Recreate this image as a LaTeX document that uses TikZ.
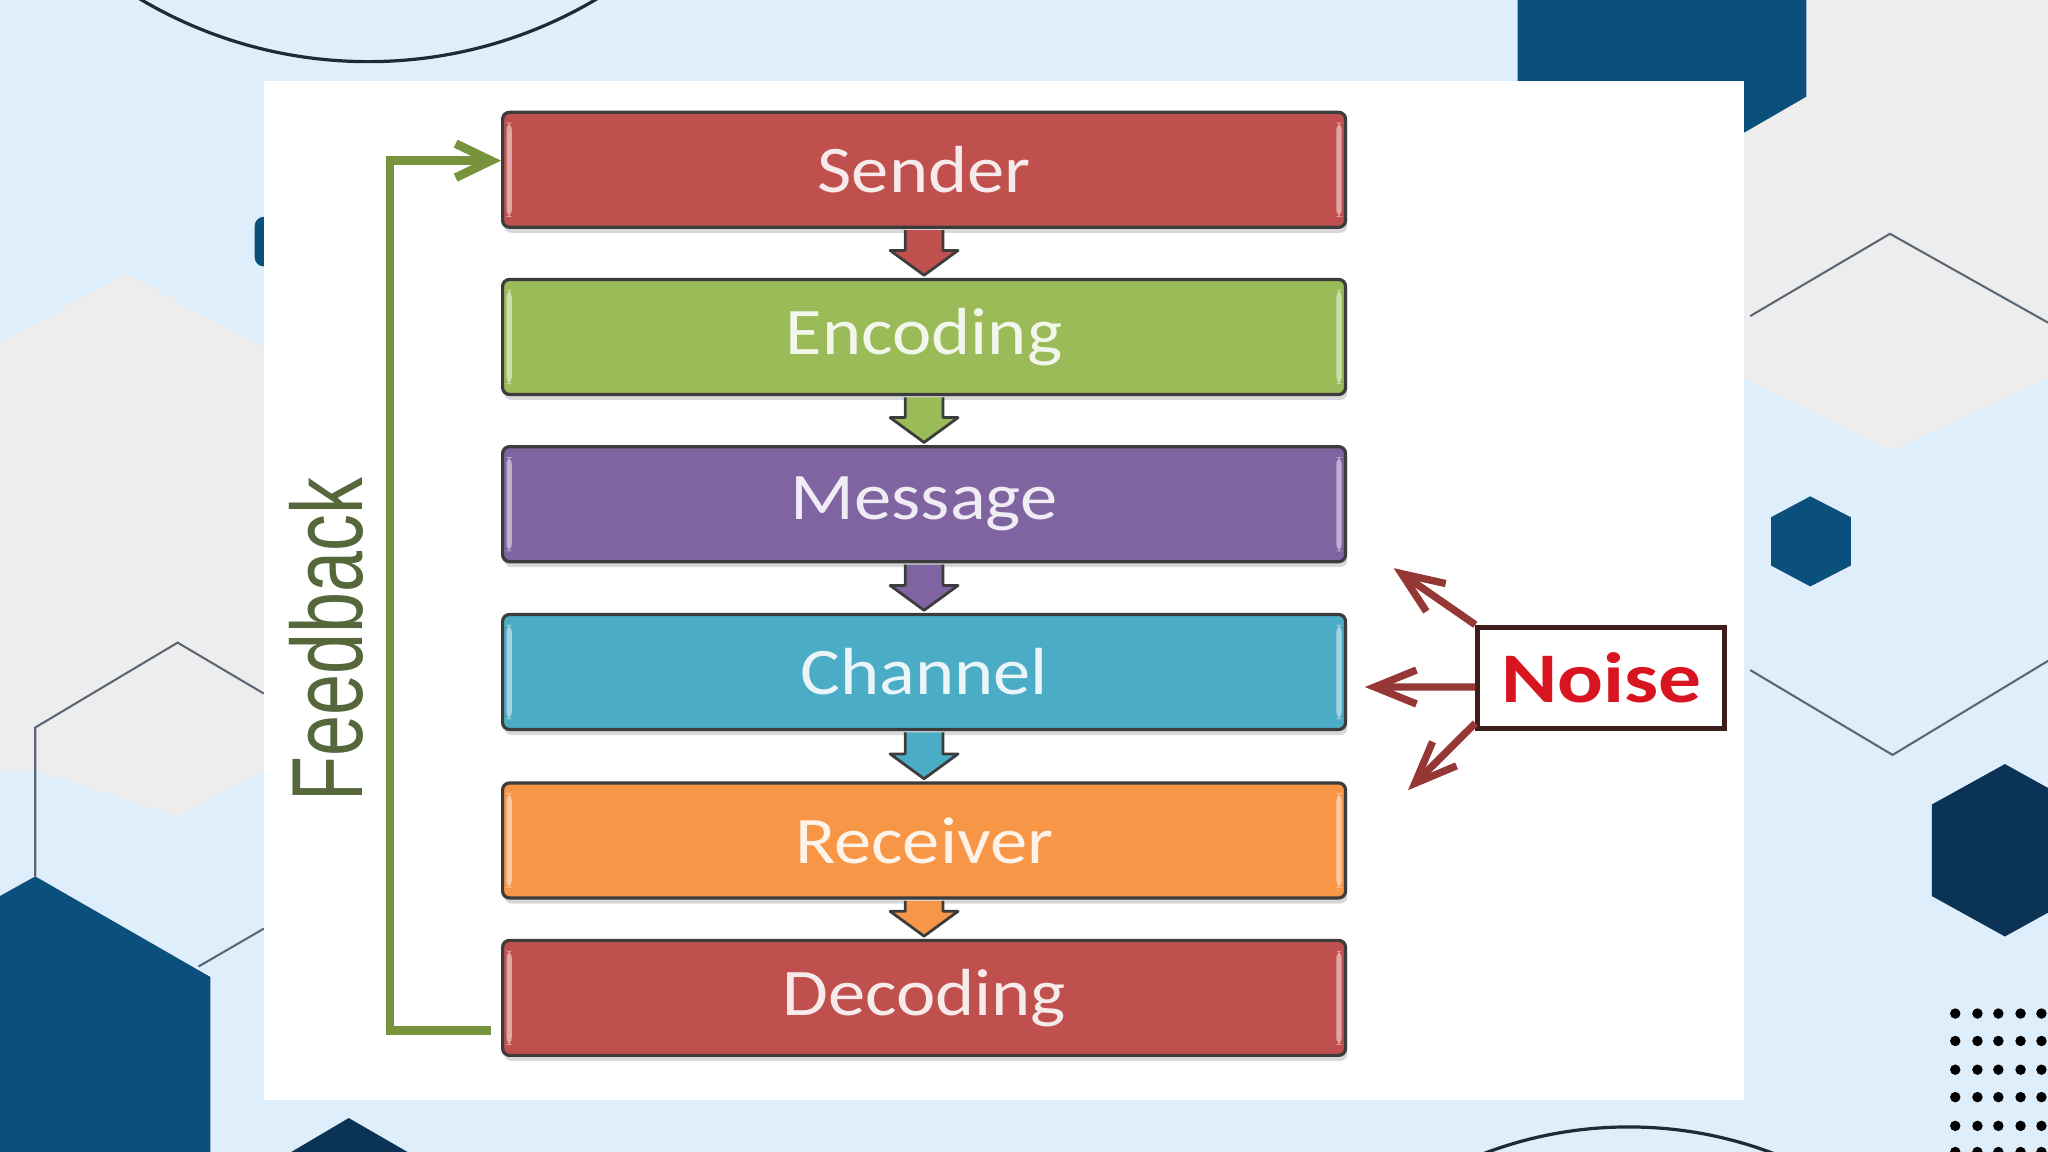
\documentclass[tikz,border=0pt]{standalone}
\usepackage{fontspec}
\setmainfont{Carlito}
\newfontfamily\stagefont[FakeStretch=1.12]{Carlito}
\newfontfamily\noisefont[FakeStretch=1.2]{Carlito}
\newfontfamily\fbfont[FakeStretch=0.73]{Liberation Sans}
\usetikzlibrary{arrows.meta,shadows}

\definecolor{bgblue}{HTML}{DEEEFB}
\definecolor{bggray}{HTML}{EDEDED}
\definecolor{navy}{HTML}{0B4F7D}
\definecolor{deepnavy}{HTML}{0A3356}
\definecolor{hexline}{HTML}{5B6675}
\definecolor{arcline}{HTML}{1E2A38}
\definecolor{sred}{HTML}{C0504D}
\definecolor{sgreen}{HTML}{9BBB59}
\definecolor{spurple}{HTML}{8064A2}
\definecolor{sblue}{HTML}{4BACC6}
\definecolor{sorange}{HTML}{F79646}
\definecolor{boxline}{HTML}{3C3C3C}
\definecolor{fbgreen}{HTML}{77933C}
\definecolor{fbtextc}{HTML}{56673B}
\definecolor{noisered}{HTML}{D81420}
\definecolor{noiseline}{HTML}{3E1C1C}
\definecolor{noisearr}{HTML}{953735}

\tikzset{
  stage/.style={draw=boxline, line width=0.7pt, rounded corners=1.5pt, fill=#1,
    minimum width=6.45cm, minimum height=0.88cm, inner sep=0pt,
    text=white!88!#1, font=\stagefont\fontsize{14.5}{17}\selectfont,
    drop shadow={shadow xshift=0.4pt, shadow yshift=-1.2pt, opacity=0.3},
    path picture={
      \fill[white!50!#1] ([shift={(0.03cm,0.08cm)}]path picture bounding box.south west)
        rectangle ([shift={(0.07cm,-0.08cm)}]path picture bounding box.north west);
      \fill[white!50!#1] ([shift={(-0.07cm,0.08cm)}]path picture bounding box.south east)
        rectangle ([shift={(-0.03cm,-0.08cm)}]path picture bounding box.north east);
    }},
  noisebox/.style={draw=noiseline, line width=1.1pt, fill=white,
    minimum width=1.89cm, minimum height=0.775cm, inner sep=0pt,
    text=noisered, font=\noisefont\bfseries\fontsize{15.5}{18}\selectfont},
  fbline/.style={draw=fbgreen, line width=1.9pt, -{Straight Barb[length=2.7mm,width=2.6mm]}},
  fbtext/.style={text=fbtextc, font=\fbfont\fontsize{22}{26}\selectfont},
  noisearrow/.style={draw=noisearr, line width=1.6pt, -{Straight Barb[length=3.2mm,width=2.6mm]}},
  hexedge/.style={draw=hexline, line width=0.45pt},
  ringline/.style={draw=arcline, line width=0.7pt}
}

% block arrow from the bottom of #1 to the top of #2, filled with #3
\newcommand{\flowdown}[3]{%
  \fill[#3] ([xshift=-0.145cm,yshift=-0.01cm]#1.south) -- ([xshift=-0.145cm,yshift=0.21cm]#2.north)
    -- ([xshift=-0.26cm,yshift=0.21cm]#2.north) -- ([yshift=0.02cm]#2.north)
    -- ([xshift=0.26cm,yshift=0.21cm]#2.north) -- ([xshift=0.145cm,yshift=0.21cm]#2.north)
    -- ([xshift=0.145cm,yshift=-0.01cm]#1.south) -- cycle;
  \draw[boxline, line width=0.6pt, line join=round]
    ([xshift=-0.145cm,yshift=-0.01cm]#1.south) -- ([xshift=-0.145cm,yshift=0.21cm]#2.north)
    -- ([xshift=-0.26cm,yshift=0.21cm]#2.north) -- ([yshift=0.02cm]#2.north)
    -- ([xshift=0.26cm,yshift=0.21cm]#2.north) -- ([xshift=0.145cm,yshift=0.21cm]#2.north)
    -- ([xshift=0.145cm,yshift=-0.01cm]#1.south);
}

\begin{document}
\begin{tikzpicture}[x=0.01cm, y=-0.01cm]
  \useasboundingbox (0,0) rectangle (1568,882);
  \clip (0,0) rectangle (1568,882);

  % Background with hexagons
  \fill[bgblue] (0,0) rectangle (1568,882);
  \fill[bggray] (0,262) -- (97,210) -- (202,266) -- (202,590) -- (136,625) -- (27,590) -- (0,590) -- cycle;
  \fill[bggray] (1335,0) -- (1568,0) -- (1568,290) -- (1447,345) -- (1335,290) -- cycle;
  \fill[navy] (1162,0) -- (1383,0) -- (1383,74) -- (1300,122) -- (1162,122) -- cycle;
  \fill[navy, rounded corners=2] (195,166) rectangle (215,204);
  \fill[navy] (0,686) -- (27,671) -- (161,748) -- (161,882) -- (0,882) -- cycle;
  \fill[deepnavy] (223,882) -- (267,856) -- (312,882) -- cycle;
  \fill[navy] (1386,380) -- (1417,396) -- (1417,433) -- (1386,449) -- (1356,433) -- (1356,396) -- cycle;
  \fill[deepnavy] (1535,585) -- (1591,616) -- (1591,686) -- (1535,717) -- (1479,686) -- (1479,616) -- cycle;
  \draw[hexedge] (202,531) -- (136,492) -- (27,557) -- (27,671);
  \draw[hexedge] (152,740) -- (202,711);
  \draw[hexedge] (1340,242) -- (1447,179) -- (1568,247);
  \draw[hexedge] (1340,513) -- (1449,578) -- (1568,506);
  \draw[ringline] (282,-295) circle[radius=3.42cm];
  \draw[ringline] (1247,1174) circle[radius=3.11cm];
  \foreach \dx in {1497,1514,1530,1547,1563}
    \foreach \dy in {776,797,819,840,862,882}
      \fill[black] (\dx,\dy) circle[radius=0.04cm];

  % White panel
  \fill[white] (202,62) rectangle (1335,842);

  % Stages
  \node[stage=sred] (snd) at (707.5,130) {Sender};
  \node[stage=sgreen] (enc) at (707.5,258) {Encoding};
  \node[stage=spurple] (msg) at (707.5,386) {Message};
  \node[stage=sblue] (chn) at (707.5,514.5) {Channel};
  \node[stage=sorange] (rcv) at (707.5,643.5) {Receiver};
  \node[stage=sred] (dec) at (707.5,764) {Decoding};

  % Block arrows between stages
  \flowdown{snd}{enc}{sred}
  \flowdown{enc}{msg}{sgreen}
  \flowdown{msg}{chn}{spurple}
  \flowdown{chn}{rcv}{sblue}
  \flowdown{rcv}{dec}{sorange}

  % Feedback loop
  \draw[fbline] ([xshift=-0.08cm,yshift=-0.25cm]dec.west) -- ++(-0.77cm,0) |- ([yshift=0.07cm]snd.west);
  \node[fbtext, rotate=90] (fb) at (250,490) {Feedback};

  % Noise
  \node[noisebox] (noise) at (1226,519) {Noise};
  \coordinate (nzup) at (1067,435);
  \coordinate (nzmid) at (1045,526);
  \coordinate (nzlow) at (1078,605);
  \draw[noisearrow] (noise.north west) -- (nzup);
  \draw[noisearrow] ([yshift=-0.07cm]noise.west) -- (nzmid);
  \draw[noisearrow] ([yshift=0.06cm]noise.south west) -- (nzlow);
\end{tikzpicture}
\end{document}
